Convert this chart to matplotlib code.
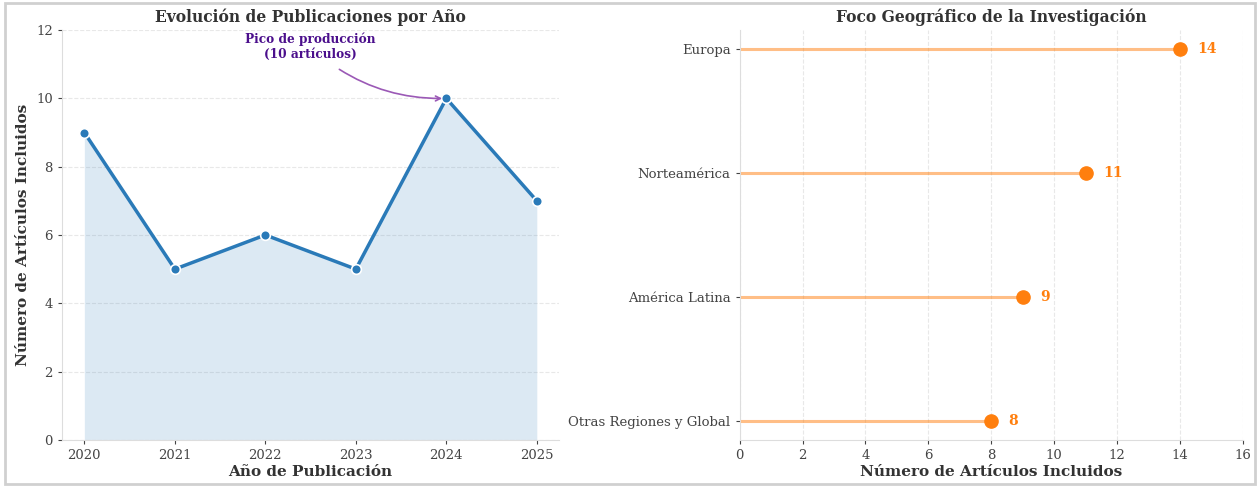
import matplotlib
matplotlib.use("Agg")
import matplotlib.pyplot as plt
from matplotlib.patches import Rectangle
import seaborn as sns

# datos
years = [2020, 2021, 2022, 2023, 2024, 2025]
articles = [9, 5, 6, 5, 10, 7]
regions = ["Otras Regiones y Global", "América Latina", "Norteamérica", "Europa"]
region_counts = [8, 9, 11, 14]
peak_label = "Pico de producción\n(10 artículos)"

sns.set_style("whitegrid")
plt.rcParams["font.family"] = ["DejaVu Serif"]

blue = "#2a7ab8"
orange = "#ff7f0e"
text_col = "#333333"

fig, (ax1, ax2) = plt.subplots(1, 2, figsize=(12.6, 4.86), dpi=100)
ax1.set_position([0.049, 0.095, 0.395, 0.843])
ax2.set_position([0.587, 0.095, 0.3995, 0.843])

# --- panel izquierdo: evolucion por ano
ax1.fill_between(years, articles, color=blue, alpha=0.16, lw=0)
ax1.plot(years, articles, color=blue, lw=2.5, marker="o", ms=7,
         mec="white", mew=1.2, zorder=3)
ax1.set_ylim(0, 12)
ax1.set_yticks(range(0, 13, 2))
ax1.set_xticks(years)
ax1.grid(axis="y", ls="--", alpha=0.45)
ax1.grid(axis="x", visible=False)
ax1.set_title("Evolución de Publicaciones por Año", fontsize=11.2,
              fontweight="bold", color=text_col, pad=6)
ax1.set_xlabel("Año de Publicación", fontsize=11, fontweight="bold",
               color=text_col, labelpad=2)
ax1.set_ylabel("Número de Artículos Incluidos", fontsize=11,
               fontweight="bold", color=text_col)
peak = articles.index(max(articles))
ax1.annotate(peak_label, xy=(years[peak], articles[peak]),
             xytext=(2022.5, 11.5), ha="center", va="center",
             fontsize=8.7, fontweight="bold", color="#4b0f8c",
             arrowprops=dict(arrowstyle="->", color="#9b59b6", lw=1.2,
                             connectionstyle="arc3,rad=0.2",
                             shrinkA=6, shrinkB=3))

# --- panel derecho: foco geografico
ypos = range(len(regions))
ax2.hlines(ypos, 0, region_counts, color=orange, alpha=0.5, lw=2.2)
ax2.plot(region_counts, ypos, "o", color=orange, ms=9.5)
for y, v in zip(ypos, region_counts):
    ax2.text(v + 0.55, y, str(v), va="center", ha="left", fontsize=10,
             fontweight="bold", color=orange)
ax2.set_yticks(list(ypos))
ax2.set_yticklabels(regions)
ax2.set_xlim(0, 16)
ax2.set_xticks(range(0, 17, 2))
ax2.set_ylim(-0.15, 3.15)
ax2.grid(axis="x", ls="--", alpha=0.45)
ax2.grid(axis="y", visible=False)
ax2.set_title("Foco Geográfico de la Investigación", fontsize=11.2,
              fontweight="bold", color=text_col, pad=6)
ax2.set_xlabel("Número de Artículos Incluidos", fontsize=11,
               fontweight="bold", color=text_col, labelpad=2)

for ax in (ax1, ax2):
    ax.tick_params(axis="both", labelsize=9.5, colors="#444444",
                   length=3, left=True, bottom=True)
    for side in ("top", "right"):
        ax.spines[side].set_visible(False)
    for side in ("left", "bottom"):
        ax.spines[side].set_color("#dddddd")

fig.patches.append(Rectangle((0.004, 0.004), 0.992, 0.99, transform=fig.transFigure,
                             fill=False, ec="#d0d0d0", lw=2))

fig.savefig("out.png", dpi=100)
